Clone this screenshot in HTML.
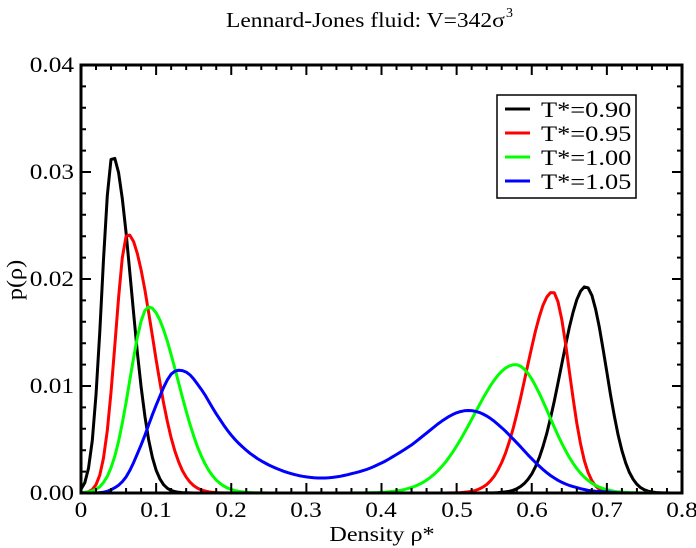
<!DOCTYPE html>
<html><head><meta charset="utf-8"><style>
body{margin:0;background:#fff}
svg{display:block;font-family:"Liberation Serif",serif}
</style></head><body>
<svg id="s" width="696" height="548" viewBox="0 0 696 548" xmlns="http://www.w3.org/2000/svg">
<rect width="696" height="548" fill="#fff"/>
<text transform="translate(226,27) scale(1.12,1)" font-size="21">Lennard-Jones fluid: V=342σ</text>
<text x="506" y="17" font-size="14">3</text>
<g id="curves" fill="none" stroke-width="3" stroke-linejoin="round"></g>
<g id="ticks" stroke="#000" stroke-width="2"></g>
<rect x="81" y="65" width="601" height="428" fill="none" stroke="#000" stroke-width="3"/>
<g font-size="22" text-anchor="end">
<text transform="translate(74,72) scale(1.15,1)">0.04</text><text transform="translate(74,179) scale(1.15,1)">0.03</text><text transform="translate(74,286) scale(1.15,1)">0.02</text><text transform="translate(74,393) scale(1.15,1)">0.01</text><text transform="translate(74,500) scale(1.15,1)">0.00</text>
</g>
<g font-size="22" text-anchor="middle">
<text transform="translate(81,517) scale(1.15,1)">0</text>
<text transform="translate(156,517) scale(1.15,1)">0.1</text><text transform="translate(231,517) scale(1.15,1)">0.2</text><text transform="translate(306,517) scale(1.15,1)">0.3</text><text transform="translate(381,517) scale(1.15,1)">0.4</text><text transform="translate(457,517) scale(1.15,1)">0.5</text><text transform="translate(532,517) scale(1.15,1)">0.6</text><text transform="translate(607,517) scale(1.15,1)">0.7</text><text transform="translate(682,517) scale(1.15,1)">0.8</text>
</g>
<text transform="translate(382,541) scale(1.15,1)" font-size="21" text-anchor="middle">Density ρ*</text>
<text transform="translate(22,280) rotate(-90) scale(1.1,1)" font-size="22" text-anchor="middle">p(ρ)</text>
<rect x="497" y="95" width="139" height="103" fill="#fff" stroke="#000" stroke-width="1.5"/>
<g stroke-width="3"><line x1="505" x2="530" y1="109" y2="109" stroke="#000"/><line x1="505" x2="530" y1="133" y2="133" stroke="#f00"/><line x1="505" x2="530" y1="157" y2="157" stroke="#0f0"/><line x1="505" x2="530" y1="181" y2="181" stroke="#00f"/></g>
<g font-size="22"><text transform="translate(541,117) scale(1.2,1)">T*=0.90</text><text transform="translate(541,141) scale(1.2,1)">T*=0.95</text><text transform="translate(541,165) scale(1.2,1)">T*=1.00</text><text transform="translate(541,189) scale(1.2,1)">T*=1.05</text></g>
</svg>
<script>
var X=function(v){return 81+v*751.25},Y=function(v){return 493-v*10700};
function g(x,a,m,sl,sr){var s=x<m?sl:sr;return a*Math.exp(-Math.pow((x-m)/s,2)/2)}
var bv=[0,0,0.0003,0.0015,0.0045,0.0082,0.0111,0.0113,0.0097,0.0074,0.0054,0.0040,0.0030,0.0023,0.0018,0.0015,0.0014,0.0015,0.0018,0.0022,0.0028,0.0036,0.0045,0.0056,0.0067,0.0075,0.0077,0.0072,0.0061,0.0047,0.0032,0.0019,0.0010,0.0005,0.0002,0.0001,0,0,0,0,0,0,0];
function blue(x){var u=x/0.02,i=Math.min(Math.floor(u),39),t=u-i;
var p0=bv[Math.max(i-1,0)],p1=bv[i],p2=bv[i+1],p3=bv[i+2];
var m1=(p2-p0)/2,m2=(p3-p1)/2,t2=t*t,t3=t2*t;
return Math.max(0,(2*t3-3*t2+1)*p1+(t3-2*t2+t)*m1+(-2*t3+3*t2)*p2+(t3-t2)*m2)}
var F=[
["#000",function(x){return g(x,0.0315,0.042,0.014,0.025)+g(x,0.0193,0.672,0.033,0.027)}],
["#f00",function(x){return g(x,0.0242,0.062,0.016,0.033)+g(x,0.0188,0.628,0.035,0.022)}],
["#0f0",function(x){return g(x,0.0174,0.09,0.025,0.039)+g(x,0.0120,0.578,0.055,0.045)}],
["#00f",blue]];
var c=document.getElementById('curves'),ns="http://www.w3.org/2000/svg";
F.forEach(function(f){var d="";for(var i=0;i<=160;i++){var x=i/200;d+=(i?"L":"M")+X(x).toFixed(1)+","+Y(f[1](x)).toFixed(1)}
var p=document.createElementNS(ns,"path");p.setAttribute("d",d);p.setAttribute("stroke",f[0]);c.appendChild(p)});
var t=document.getElementById('ticks'),s="";
for(var i=0;i<=40;i++){var x=X(i*0.02),L=(i%5==0)?10:5;s+="M"+x+",493v"+(-L)+"M"+x+",65v"+L}
for(var j=0;j<=20;j++){var y=Y(j*0.002),L=(j%5==0)?10:5;s+="M81,"+y+"h"+L+"M682,"+y+"h"+(-L)}
var p=document.createElementNS(ns,"path");p.setAttribute("d",s);t.appendChild(p);
</script>
</body></html>
